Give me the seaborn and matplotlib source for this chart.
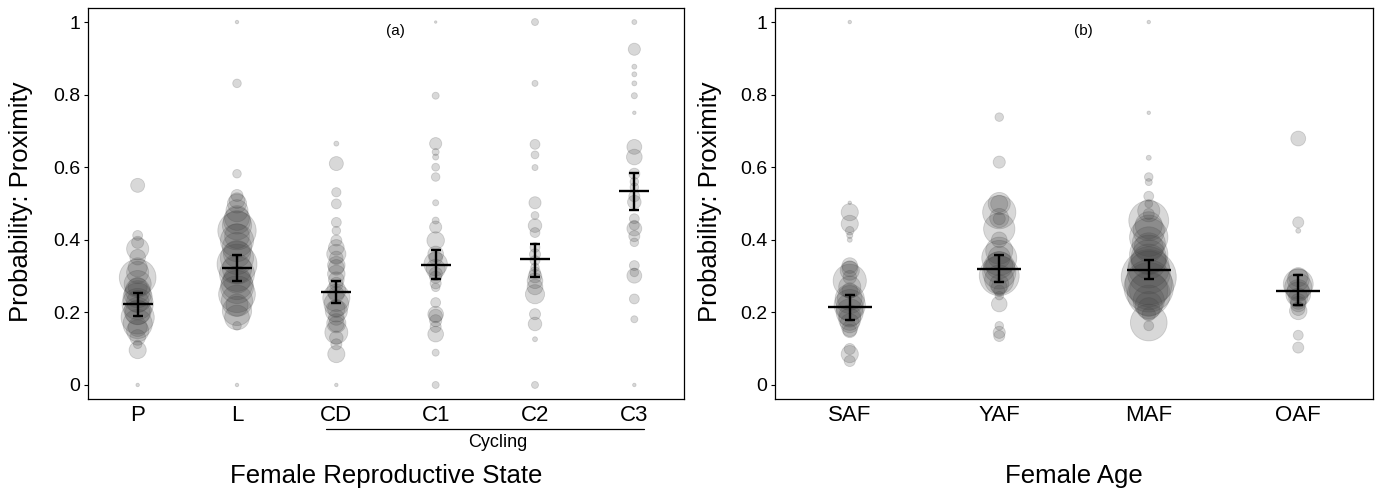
import numpy as np
import pandas as pd
import seaborn as sns
import matplotlib
matplotlib.use('Agg')
from matplotlib import pyplot as plt
from matplotlib import font_manager
from matplotlib.transforms import blended_transform_factory

# Panel (a): female reproductive state
state_cats = ['P', 'L', 'CD', 'C1', 'C2', 'C3']

P_prob = [0.0, 0.096, 0.55, 0.412, 0.393, 0.375, 0.352, 0.324, 0.296, 0.278, 0.26, 0.241,
          0.223, 0.204, 0.186, 0.168, 0.149, 0.131, 0.112,
          0.31, 0.27, 0.25, 0.23, 0.2, 0.16]
P_n = [1, 24, 16, 8, 12, 40, 20, 30, 110, 60, 50, 70, 80, 60, 90, 70, 40, 20, 6,
       40, 30, 60, 40, 50, 30]

L_prob = [0.0, 0.163, 1.0, 0.831, 0.582, 0.522, 0.508, 0.48, 0.453, 0.425, 0.398, 0.361,
          0.333, 0.306, 0.278, 0.25, 0.232, 0.204, 0.186,
          0.5, 0.46, 0.44, 0.41, 0.38, 0.35, 0.32, 0.29, 0.27, 0.22]
L_n = [1, 6, 1, 6, 6, 12, 20, 40, 60, 120, 90, 60, 130, 100, 80, 110, 80, 70, 50,
       30, 50, 70, 50, 70, 90, 70, 60, 90, 40]

CD_prob = [0.0, 0.085, 0.145, 0.112, 0.168, 0.665, 0.61, 0.531, 0.499, 0.448, 0.425, 0.398,
           0.379, 0.361, 0.324, 0.306, 0.278, 0.25, 0.223, 0.204, 0.186,
           0.35, 0.33, 0.29, 0.26, 0.24, 0.21, 0.17, 0.13]
CD_n = [1, 24, 43, 10, 20, 2, 16, 7, 8, 8, 6, 10, 20, 30, 20, 25, 15, 20, 50, 40, 20,
        15, 25, 20, 30, 60, 25, 30, 15]

C1_prob = [1.0, 0.797, 0.665, 0.642, 0.628, 0.6, 0.573, 0.502, 0.453, 0.435, 0.398, 0.361,
           0.333, 0.306, 0.297, 0.269, 0.227, 0.195, 0.177, 0.14, 0.089, 0.0,
           0.35, 0.32, 0.28, 0.19, 0.16]
C1_n = [0.5, 4, 12, 4, 3, 5, 6, 3, 4, 12, 25, 20, 45, 15, 12, 6, 8, 20, 12, 20, 4, 4,
        15, 30, 10, 15, 10]

C2_prob = [1.0, 0.831, 0.663, 0.634, 0.599, 0.502, 0.467, 0.439, 0.42, 0.379, 0.343, 0.324,
           0.287, 0.25, 0.195, 0.168, 0.126, 0.0,
           0.36, 0.31, 0.3, 0.27]
C2_n = [4, 3, 8, 5, 3, 12, 5, 15, 8, 8, 8, 6, 20, 30, 10, 15, 2, 4,
        10, 10, 15, 20]

C3_prob = [1.0, 0.925, 0.877, 0.856, 0.831, 0.797, 0.75, 0.656, 0.628, 0.582, 0.545, 0.504,
           0.458, 0.431, 0.393, 0.329, 0.301, 0.237, 0.181, 0.0,
           0.56, 0.52, 0.44, 0.41, 0.31]
C3_n = [2, 12, 2, 2, 2, 3, 1, 18, 20, 10, 6, 15, 8, 18, 6, 8, 18, 8, 4, 1,
        6, 10, 8, 10, 6]

state_mean = [0.224, 0.323, 0.257, 0.331, 0.348, 0.534]
state_lo = [0.190, 0.287, 0.227, 0.291, 0.298, 0.483]
state_hi = [0.254, 0.359, 0.287, 0.373, 0.389, 0.585]

# Panel (b): female age
age_cats = ['SAF', 'YAF', 'MAF', 'OAF']

SAF_prob = [1.0, 0.502, 0.476, 0.444, 0.425, 0.412, 0.4, 0.329, 0.315, 0.297, 0.287, 0.26,
            0.237, 0.214, 0.181, 0.149, 0.099, 0.085, 0.066,
            0.32, 0.27, 0.24, 0.22, 0.2, 0.19, 0.17, 0.155]
SAF_n = [1, 1, 24, 24, 6, 3, 2, 20, 30, 15, 90, 20, 70, 60, 40, 15, 10, 24, 10,
         20, 40, 50, 80, 60, 40, 30, 20]

YAF_prob = [0.738, 0.614, 0.499, 0.476, 0.458, 0.43, 0.37, 0.352, 0.324, 0.301, 0.278, 0.26,
            0.246, 0.223, 0.163, 0.145, 0.135,
            0.5, 0.46, 0.4, 0.35, 0.33, 0.31, 0.29, 0.27]
YAF_n = [6, 12, 24, 90, 12, 80, 60, 40, 80, 130, 30, 10, 6, 20, 6, 12, 10,
         40, 30, 20, 100, 60, 90, 70, 20]

MAF_prob = [1.0, 0.75, 0.626, 0.573, 0.559, 0.52, 0.499, 0.471, 0.453, 0.425, 0.407, 0.379,
            0.352, 0.324, 0.297, 0.269, 0.25, 0.232, 0.195, 0.172, 0.163,
            0.48, 0.44, 0.39, 0.36, 0.34, 0.31, 0.28, 0.26, 0.22, 0.21]
MAF_n = [1, 1, 2, 6, 4, 8, 5, 10, 130, 80, 120, 70, 100, 140, 247, 200, 150, 80, 15, 110, 8,
         40, 60, 90, 120, 100, 150, 180, 120, 60, 40]

OAF_prob = [0.679, 0.448, 0.425, 0.297, 0.278, 0.26, 0.241, 0.223, 0.204, 0.137, 0.103,
            0.29, 0.27, 0.25, 0.23, 0.21]
OAF_n = [18, 10, 2, 30, 73, 40, 30, 20, 25, 8, 10,
         40, 60, 50, 20, 15]

age_mean = [0.214, 0.320, 0.318, 0.260]
age_lo = [0.180, 0.285, 0.291, 0.220]
age_hi = [0.247, 0.359, 0.344, 0.304]


def make_frame(cats, probs, ns, col):
    rows = []
    for c, p, n in zip(cats, probs, ns):
        rows.append(pd.DataFrame({col: c, 'prob': p, 'n': n}))
    return pd.concat(rows, ignore_index=True)


df_state = make_frame(state_cats, [P_prob, L_prob, CD_prob, C1_prob, C2_prob, C3_prob],
                      [P_n, L_n, CD_n, C1_n, C2_n, C3_n], 'state')
df_age = make_frame(age_cats, [SAF_prob, YAF_prob, MAF_prob, OAF_prob],
                    [SAF_n, YAF_n, MAF_n, OAF_n], 'age')

sns.set_theme(style='white')
plt.rcParams['font.family'] = ['Liberation Sans', 'DejaVu Sans']

narrow = 'Liberation Sans Narrow'
if not any(f.name == narrow for f in font_manager.fontManager.ttflist):
    narrow = 'Liberation Sans'

W, H = 1379, 490
fig = plt.figure(figsize=(W / 100, H / 100), dpi=100)
ax_a = fig.add_axes([88 / W, (H - 399) / H, 596 / W, 391 / H])
ax_b = fig.add_axes([775 / W, (H - 399) / H, 598 / W, 391 / H])

bubble = '#3f3f3f'


def draw_panel(ax, df, col, cats, mean, lo, hi, mean_len, xlabel, tag):
    sns.scatterplot(data=df, x=col, y='prob', size='n', sizes=(0, 1588), size_norm=(0, 250),
                    color=bubble, edgecolor=bubble, alpha=0.2, linewidth=0.6,
                    legend=False, ax=ax, zorder=2)
    xs = np.arange(len(cats))
    mean = np.array(mean)
    ax.errorbar(xs, mean, yerr=[mean - np.array(lo), np.array(hi) - mean], fmt='none',
                ecolor='black', elinewidth=1.7, capsize=3.6, capthick=1.7, zorder=4)
    ax.plot(xs, mean, linestyle='none', marker='_', markersize=mean_len,
            markeredgewidth=1.7, color='black', zorder=4)

    ax.set_xlim(-0.5, len(cats) - 0.5)
    ax.set_ylim(-0.0387, 1.0387)
    ax.set_xticks(xs)
    ax.set_xticklabels(cats)
    ax.set_yticks([0, 0.2, 0.4, 0.6, 0.8, 1.0])
    ax.set_yticklabels(['0', '0.2', '0.4', '0.6', '0.8', '1'])
    ax.tick_params(axis='x', length=0, pad=4, labelsize=16, colors='black')
    ax.tick_params(axis='y', left=True, length=3, width=0.8, pad=2.5, labelsize=14,
                   colors='black')
    for s in ax.spines.values():
        s.set_color('black')
        s.set_linewidth(0.9)
    ax.set_xlabel(xlabel, fontsize=18.5, color='black')
    ax.xaxis.set_label_coords(0.5, -0.165)
    ax.set_ylabel('Probability: Proximity', fontsize=18.5, color='black')
    ax.text(0.515, 0.94, tag, transform=ax.transAxes, ha='center', va='center',
            fontsize=11, color='black')


draw_panel(ax_a, df_state, 'state', state_cats, state_mean, state_lo, state_hi, 21.6,
           'Female Reproductive State', '(a)')
draw_panel(ax_b, df_age, 'age', age_cats, age_mean, age_lo, age_hi, 31.7,
           'Female Age', '(b)')
ax_a.yaxis.set_label_coords(-0.092, 0.504)
ax_b.yaxis.set_label_coords(-0.089, 0.504)

# "Cycling" bracket under CD..C3
tr = blended_transform_factory(ax_a.transData, ax_a.transAxes)
ax_a.plot([1.9, 5.1], [-0.077, -0.077], color='black', linewidth=0.9,
          transform=tr, clip_on=False)
ax_a.text(3.63, -0.112, 'Cycling', transform=tr, ha='center', va='center',
          fontsize=13, family=narrow, color='black')

fig.savefig('out.png', dpi=100)
